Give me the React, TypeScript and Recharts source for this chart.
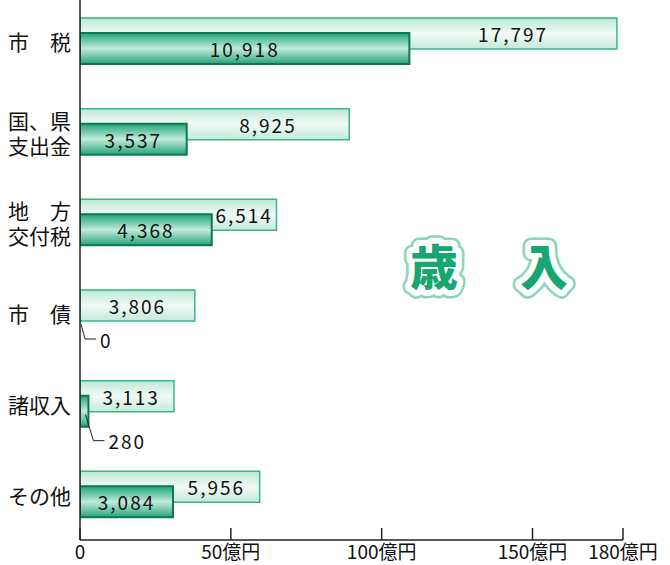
import { BarChart, Bar, XAxis, YAxis, LabelList } from 'recharts';

const categories = ['市　税', '国、県\n支出金', '地　方\n交付税', '市　債', '諸収入', 'その他'];
// values in 百万円
const upperValues = [17797, 8925, 6514, 3806, 3113, 5956];
const lowerValues = [10918, 3537, 4368, 0, 280, 3084];
const xTicks = [0, 5000, 10000, 15000, 18000];
const title = '歳　入';

const data = categories.map((name, i) => ({
  name,
  upper: upperValues[i],
  lower: lowerValues[i],
}));

const FONT = '"Noto Sans CJK JP", "Noto Sans", sans-serif';
const BAR_SIZE = 31;
const BAR_GAP = -16;
const fmt = (v: number) => v.toLocaleString('en-US');

const box = (props: any) => {
  const vb = props.viewBox || {};
  return {
    x: props.x ?? vb.x ?? 0,
    y: props.y ?? vb.y ?? 0,
    width: props.width ?? vb.width ?? 0,
    height: props.height ?? vb.height ?? 0,
  };
};

const numText = (x: number, y: number, v: number, anchor: 'start' | 'middle') => (
  <text
    x={x}
    y={y}
    textAnchor={anchor}
    dominantBaseline="central"
    fontFamily={FONT}
    fontSize={19}
    letterSpacing={2}
    fill="#111"
  >
    {fmt(v)}
  </text>
);

// small values get a leader line instead of an inside label
const leader = (x: number, y: number, width: number, height: number, v: number, drop: number) => {
  const sx = x + Math.max(width - 3, 1);
  const sy = y + height - 12;
  const ex = x + width + 5;
  const ey = y + height + drop;
  return (
    <g>
      <polyline points={`${sx},${sy} ${ex},${ey} ${ex + 11},${ey}`} fill="none" stroke="#222" strokeWidth={1} />
      {numText(ex + 15, ey, v, 'start')}
    </g>
  );
};

const UpperLabel = (props: any) => {
  const { x, y, width, height } = box(props);
  const i = props.index ?? 0;
  const up = upperValues[i];
  const low = lowerValues[i];
  const darkEnd = x + width * (up ? low / up : 0);
  const cx = (darkEnd + x + width) / 2;
  return (
    <g>
      {numText(cx, y + height / 2, up, 'middle')}
      {low === 0 && leader(x, y + BAR_SIZE + BAR_GAP, 0, height, low, 3)}
    </g>
  );
};

const LowerLabel = (props: any) => {
  const { x, y, width, height } = box(props);
  const v = Number(props.value ?? 0);
  if (v < 1000) return leader(x, y, width, height, v, 14);
  return numText(x + width / 2, y + height / 2, v, 'middle');
};

const CategoryTick = (props: any) => {
  const { y, payload } = props;
  const lines = String(payload.value).split('\n');
  const lineH = 25;
  const startY = y - ((lines.length - 1) * lineH) / 2;
  return (
    <text x={8} y={startY} textAnchor="start" fontFamily={FONT} fontSize={21} fill="#111">
      {lines.map((l, k) => (
        <tspan key={k} x={8} y={startY + k * lineH} dominantBaseline="central">
          {l}
        </tspan>
      ))}
    </text>
  );
};

export default function App() {
  return (
    <div style={{ position: 'absolute', left: 0, top: 0, width: 670, height: 565, background: '#fff', overflow: 'hidden' }}>
      <div style={{ position: 'absolute', left: 0, top: -4 }}>
        <BarChart
          width={670}
          height={569}
          data={data}
          layout="vertical"
          barSize={BAR_SIZE}
          barGap={BAR_GAP}
          margin={{ top: 0, right: 47, bottom: 0, left: 0 }}
        >
          <defs>
            <linearGradient id="lightFill" x1="0" y1="0" x2="0" y2="1">
              <stop offset="0%" stopColor="#bde8d5" />
              <stop offset="50%" stopColor="#f1faf6" />
              <stop offset="100%" stopColor="#c3eada" />
            </linearGradient>
            <linearGradient id="darkFill" x1="0" y1="0" x2="0" y2="1">
              <stop offset="0%" stopColor="#1ea67b" />
              <stop offset="50%" stopColor="#c2eada" />
              <stop offset="100%" stopColor="#23a57b" />
            </linearGradient>
          </defs>
          <XAxis
            type="number"
            domain={[0, 18000]}
            ticks={xTicks}
            allowDataOverflow
            height={25}
            tickFormatter={(v: number) => (v === 0 ? '0' : `${v / 100}億円`)}
            tick={{ fontSize: 19, fill: '#111', fontFamily: FONT }}
            axisLine={{ stroke: '#222', strokeWidth: 1.5 }}
            tickLine={{ stroke: '#222', strokeWidth: 1.5 }}
            tickSize={-12}
            tickMargin={18}
            interval={0}
          />
          <YAxis
            type="category"
            dataKey="name"
            width={80}
            axisLine={{ stroke: '#222', strokeWidth: 1.5 }}
            tickLine={false}
            tick={<CategoryTick />}
            interval={0}
          />
          <Bar dataKey="upper" fill="url(#lightFill)" stroke="#38b688" strokeWidth={1.5} isAnimationActive={false}>
            <LabelList dataKey="upper" content={<UpperLabel />} />
          </Bar>
          <Bar dataKey="lower" fill="url(#darkFill)" stroke="#11774f" strokeWidth={2} isAnimationActive={false}>
            <LabelList dataKey="lower" content={<LowerLabel />} />
          </Bar>
        </BarChart>
      </div>
      <svg width={670} height={565} style={{ position: 'absolute', left: 0, top: 0, pointerEvents: 'none' }}>
        <g fontFamily={FONT} fontSize={48} fontWeight={900} letterSpacing={7}>
          <text x={410} y={264} dominantBaseline="central" fill="none" stroke="#86d6b7" strokeWidth={17} strokeLinejoin="round">
            {title}
          </text>
          <text x={410} y={264} dominantBaseline="central" fill="none" stroke="#fff" strokeWidth={12} strokeLinejoin="round">
            {title}
          </text>
          <text x={410} y={264} dominantBaseline="central" fill="#16a672">
            {title}
          </text>
        </g>
      </svg>
    </div>
  );
}
